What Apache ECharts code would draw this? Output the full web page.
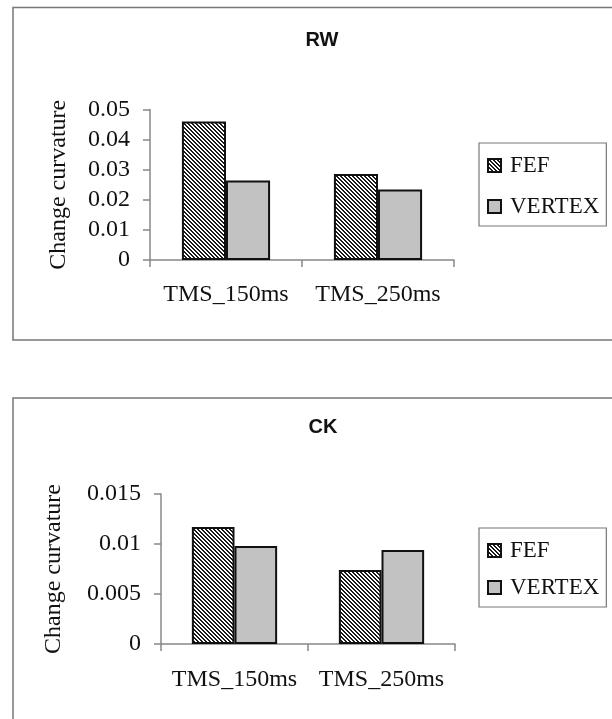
<!DOCTYPE html>
<html>
<head>
<meta charset="utf-8">
<script src="https://cdn.jsdelivr.net/npm/echarts@6/dist/echarts.min.js"></script>
<style>
html,body{margin:0;padding:0;background:#fff;}
#c{width:612px;height:719px;}
</style>
</head>
<body>
<div id="c"></div>
<script>
// ---- data ----
var categories = ['TMS_150ms', 'TMS_250ms'];
var seriesNames = ['FEF', 'VERTEX'];
var rwTitle = 'RW';
var ckTitle = 'CK';
var rwFEF = [0.046, 0.0286];
var rwVERTEX = [0.0264, 0.0234];
var ckFEF = [0.0117, 0.0074];
var ckVERTEX = [0.0098, 0.0094];
var rwTickLabels = ['0', '0.01', '0.02', '0.03', '0.04', '0.05'];
var ckTickLabels = ['0', '0.005', '0.01', '0.015'];
var yName = 'Change curvature';

// ---- hatch pattern ----
function hatch() {
  var c = document.createElement('canvas');
  c.width = 4; c.height = 4;
  var g = c.getContext('2d');
  g.fillStyle = '#ffffff';
  g.fillRect(0, 0, 4, 4);
  g.fillStyle = '#1a1a1a';
  for (var i = 0; i < 4; i++) {
    g.fillRect(i, i, 1, 1);
    g.fillRect((i + 1) % 4, i, 1, 1);
  }
  return c;
}
var hatchColor = { image: hatch(), repeat: 'repeat' };
var grayColor = '#c2c2c2';

var serif = 'Liberation Serif';
var sans = 'Liberation Sans';

var chart = echarts.init(document.getElementById('c'), null, { renderer: 'canvas' });

function yAxis(gridIndex, max, interval, labels, gap) {
  return {
    type: 'value', gridIndex: gridIndex, min: 0, max: max, interval: interval,
    name: yName, nameLocation: 'middle', nameGap: gap, nameRotate: 90,
    nameTextStyle: { fontFamily: serif, fontSize: 24, color: '#111' },
    axisLine: { show: true, lineStyle: { color: '#888', width: 1.5 } },
    axisTick: { show: true, length: 7, lineStyle: { color: '#888', width: 1.5 } },
    splitLine: { show: false },
    axisLabel: {
      fontFamily: serif, fontSize: 24, color: '#111', margin: 20,
      formatter: function (v, i) { return labels[i]; }
    }
  };
}
function xAxis(gridIndex, margin) {
  return {
    type: 'category', gridIndex: gridIndex, data: categories,
    axisLine: { lineStyle: { color: '#888', width: 1.5 } },
    axisTick: { show: true, length: 7, alignWithLabel: false, lineStyle: { color: '#888', width: 1.5 } },
    axisLabel: { fontFamily: serif, fontSize: 24, color: '#111', margin: margin, interval: 0, hideOverlap: false }
  };
}
function barSeries(name, data, color, idx) {
  return {
    type: 'bar', name: name, data: data, xAxisIndex: idx, yAxisIndex: idx,
    barGap: '0%', barCategoryGap: '42%',
    itemStyle: { color: color, borderColor: '#111', borderWidth: 2 },
    emphasis: { disabled: true }
  };
}
function legend(top, gap) {
  return {
    orient: 'vertical', left: 479, top: top, data: seriesNames,
    itemWidth: 13, itemHeight: 13, itemGap: gap,
    padding: [11, 7, 8, 8],
    borderColor: '#777', borderWidth: 1.2,
    icon: 'rect',
    textStyle: { fontFamily: serif, fontSize: 23, color: '#111', padding: [0, 0, 0, 4] },
    selectedMode: false
  };
}

var option = {
  animation: false,
  backgroundColor: '#fff',
  graphic: [
    { type: 'rect', shape: { x: 13, y: 7.5, width: 640, height: 332.5 }, style: { fill: 'none', stroke: '#777', lineWidth: 1.5 }, silent: true },
    { type: 'rect', shape: { x: 13, y: 398, width: 640, height: 400 }, style: { fill: 'none', stroke: '#777', lineWidth: 1.5 }, silent: true }
  ],
  title: [
    { text: rwTitle, left: 317, top: 25, textAlign: 'center', textStyle: { fontFamily: sans, fontSize: 20, fontWeight: 'bold', color: '#111' } },
    { text: ckTitle, left: 318, top: 412, textAlign: 'center', textStyle: { fontFamily: sans, fontSize: 20, fontWeight: 'bold', color: '#111' } }
  ],
  legend: [
    legend(143, 18),
    legend(528, 14)
  ],
  grid: [
    { left: 150, top: 109.5, width: 304, height: 150.5 },
    { left: 161, top: 494, width: 294, height: 150 }
  ],
  xAxis: [xAxis(0, 23), xAxis(1, 24)],
  yAxis: [yAxis(0, 0.05, 0.01, rwTickLabels, 79), yAxis(1, 0.015, 0.005, ckTickLabels, 95)],
  series: [
    barSeries(seriesNames[0], rwFEF, hatchColor, 0),
    barSeries(seriesNames[1], rwVERTEX, grayColor, 0),
    barSeries(seriesNames[0], ckFEF, hatchColor, 1),
    barSeries(seriesNames[1], ckVERTEX, grayColor, 1)
  ]
};
chart.setOption(option);
</script>
</body>
</html>
